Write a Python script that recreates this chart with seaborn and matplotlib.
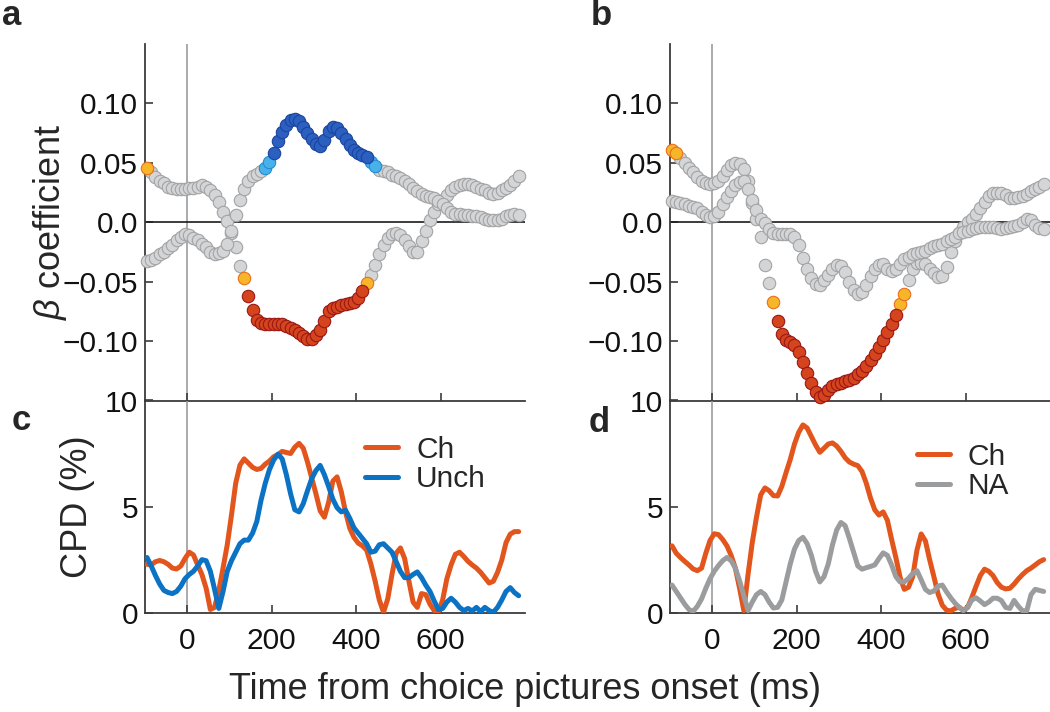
import matplotlib
matplotlib.use("Agg")
import matplotlib.pyplot as plt
import pandas as pd
import seaborn as sns

# sample times (ms from choice pictures onset)
time_ms = list(range(-95, 790, 10))

# ---- panel a: beta coefficients, Ch and Unch ----
beta_a_ch = [
    0.046, 0.042, 0.038, 0.035, 0.033, 0.030, 0.029, 0.028, 0.028, 0.028,
    0.029, 0.029, 0.030, 0.031, 0.030, 0.027, 0.023, 0.017, 0.009, 0.001,
    -0.009, -0.021, -0.037, -0.047, -0.062, -0.074, -0.082, -0.085, -0.086, -0.086,
    -0.086, -0.086, -0.086, -0.087, -0.089, -0.091, -0.093, -0.096, -0.098, -0.098,
    -0.095, -0.091, -0.083, -0.075, -0.072, -0.071, -0.070, -0.069, -0.068, -0.067,
    -0.064, -0.058, -0.051, -0.044, -0.036, -0.027, -0.019, -0.013, -0.010, -0.009,
    -0.011, -0.015, -0.020, -0.025, -0.025, -0.016, -0.007, 0.002, 0.009, 0.015,
    0.019, 0.023, 0.027, 0.030, 0.031, 0.032, 0.032, 0.031, 0.030, 0.028,
    0.027, 0.025, 0.024, 0.025, 0.027, 0.029, 0.031, 0.035, 0.039,
]
beta_a_unch = [
    -0.033, -0.032, -0.030, -0.027, -0.025, -0.022, -0.019, -0.015, -0.012, -0.010,
    -0.011, -0.013, -0.015, -0.018, -0.021, -0.025, -0.027, -0.026, -0.024, -0.018,
    -0.007, 0.006, 0.019, 0.028, 0.035, 0.039, 0.041, 0.043, 0.046, 0.051,
    0.058, 0.068, 0.076, 0.082, 0.086, 0.087, 0.085, 0.080, 0.075, 0.070,
    0.066, 0.064, 0.069, 0.077, 0.080, 0.079, 0.075, 0.070, 0.065, 0.061,
    0.058, 0.057, 0.055, 0.051, 0.047, 0.044, 0.043, 0.042, 0.040, 0.039,
    0.037, 0.035, 0.032, 0.029, 0.026, 0.024, 0.022, 0.021, 0.020, 0.018,
    0.015, 0.012, 0.009, 0.007, 0.007, 0.006, 0.006, 0.005, 0.005, 0.004,
    0.003, 0.002, 0.002, 0.002, 0.003, 0.005, 0.006, 0.007, 0.006,
]

# ---- panel b: beta coefficients, Ch and NA ----
beta_b_ch = [
    0.061, 0.058, 0.054, 0.050, 0.046, 0.042, 0.038, 0.035, 0.033, 0.032,
    0.033, 0.035, 0.039, 0.044, 0.048, 0.050, 0.049, 0.045, 0.035, 0.016,
    0.003, -0.012, -0.036, -0.051, -0.067, -0.083, -0.094, -0.099, -0.101, -0.103,
    -0.109, -0.118, -0.127, -0.135, -0.143, -0.147, -0.145, -0.141, -0.138, -0.136,
    -0.135, -0.134, -0.133, -0.131, -0.128, -0.125, -0.121, -0.116, -0.111, -0.105,
    -0.099, -0.092, -0.086, -0.078, -0.069, -0.060, -0.049, -0.039, -0.034, -0.034,
    -0.035, -0.039, -0.043, -0.046, -0.045, -0.038, -0.025, -0.016, -0.009, -0.004,
    0.000, 0.003, 0.007, 0.012, 0.017, 0.022, 0.025, 0.025, 0.025, 0.023,
    0.020, 0.020, 0.021, 0.022, 0.024, 0.026, 0.028, 0.030, 0.032,
]
beta_b_na = [
    0.018, 0.017, 0.016, 0.015, 0.014, 0.013, 0.012, 0.009, 0.006, 0.004,
    0.005, 0.009, 0.015, 0.021, 0.026, 0.031, 0.034, 0.035, 0.028, 0.019,
    0.010, 0.003, -0.001, -0.006, -0.009, -0.010, -0.010, -0.010, -0.010, -0.012,
    -0.019, -0.030, -0.039, -0.047, -0.052, -0.053, -0.049, -0.044, -0.039, -0.036,
    -0.037, -0.042, -0.050, -0.057, -0.060, -0.059, -0.053, -0.045, -0.039, -0.036,
    -0.035, -0.039, -0.041, -0.039, -0.035, -0.031, -0.029, -0.027, -0.026, -0.025,
    -0.024, -0.022, -0.020, -0.019, -0.018, -0.016, -0.014, -0.012, -0.009, -0.008,
    -0.007, -0.006, -0.005, -0.004, -0.004, -0.004, -0.004, -0.005, -0.006, -0.005,
    -0.004, -0.003, -0.002, 0.000, 0.003, 0.002, -0.002, -0.005, -0.006,
]

# significance cut-offs on |beta| (p<0.05 level, stronger level); None = never sig.
crit_a = (0.046, 0.053)
crit_b = (0.057, 0.078)

# ---- panel c: CPD (%) ----
cpd_c_ch = [
    2.28, 2.26, 2.40, 2.46, 2.40, 2.28, 2.10, 2.06, 2.20, 2.55,
    2.85, 2.72, 2.25, 1.80, 1.15, 0.15, 0.25, 1.05, 2.10, 3.20,
    4.60, 6.10, 6.95, 7.25, 7.05, 6.85, 6.75, 6.80, 7.00, 7.15,
    7.35, 7.45, 7.60, 7.55, 7.50, 7.80, 7.98, 7.75, 7.10, 6.35,
    5.60, 4.80, 4.50, 5.20, 6.20, 6.40, 5.70, 4.75, 3.98, 3.55,
    3.28, 3.15, 2.95, 2.30, 1.50, 0.60, 0.02, 0.65, 1.80, 2.80,
    3.05, 2.55, 1.50, 0.50, 0.25, 0.90, 0.85, 0.40, 0.10, 0.05,
    0.60, 1.60, 2.25, 2.75, 2.85, 2.65, 2.42, 2.25, 2.10, 1.90,
    1.65, 1.40, 1.48, 1.90, 2.48, 3.30, 3.70, 3.82, 3.82,
]
cpd_c_unch = [
    2.60, 2.20, 1.75, 1.35, 1.05, 0.95, 0.90, 1.00, 1.25, 1.60,
    1.80, 1.95, 2.20, 2.50, 2.45, 1.95, 1.10, 0.20, 1.00, 1.95,
    2.45, 2.85, 3.25, 3.42, 3.42, 3.75, 4.30, 5.30, 6.10, 6.75,
    7.20, 7.47, 7.25, 6.50, 5.60, 4.85, 4.75, 5.14, 5.75, 6.32,
    6.70, 6.94, 6.50, 5.95, 5.35, 4.95, 4.75, 4.83, 4.45, 4.00,
    3.75, 3.50, 3.25, 2.85, 2.90, 3.20, 3.25, 3.05, 2.85, 2.40,
    1.95, 1.65, 1.65, 1.80, 1.92, 1.65, 1.30, 1.00, 0.55, 0.15,
    0.20, 0.50, 0.68, 0.50, 0.25, 0.10, 0.20, 0.08, 0.25, 0.05,
    0.25, 0.10, 0.02, 0.25, 0.60, 1.00, 1.18, 0.95, 0.80,
]

# ---- panel d: CPD (%) ----
cpd_d_ch = [
    3.15, 2.80, 2.60, 2.42, 2.25, 2.06, 1.98, 2.10, 2.80, 3.40,
    3.72, 3.68, 3.45, 3.15, 2.70, 2.10, 1.15, 0.10, 1.80, 3.30,
    4.50, 5.55, 5.88, 5.75, 5.52, 5.50, 5.95, 6.60, 7.22, 7.95,
    8.50, 8.85, 8.70, 8.30, 7.90, 7.56, 7.75, 7.95, 8.00, 7.85,
    7.60, 7.30, 7.10, 7.00, 6.93, 6.65, 6.10, 5.40, 4.85, 4.60,
    4.75, 4.35, 3.45, 2.60, 1.67, 1.10, 1.20, 1.70, 2.95, 3.71,
    3.38, 2.50, 1.70, 0.88, 0.35, 0.12, 0.08, 0.20, 0.26, 0.10,
    0.25, 0.72, 1.25, 1.75, 2.05, 1.95, 1.75, 1.42, 1.20, 1.12,
    1.15, 1.35, 1.59, 1.80, 1.98, 2.10, 2.25, 2.40, 2.50,
]
cpd_d_na = [
    1.30, 1.00, 0.70, 0.40, 0.15, 0.06, 0.30, 0.65, 1.15, 1.60,
    1.95, 2.22, 2.45, 2.60, 2.45, 2.10, 1.50, 0.80, 0.10, 0.50,
    0.85, 1.00, 0.85, 0.50, 0.22, 0.25, 0.60, 1.45, 2.30, 3.00,
    3.40, 3.55, 3.25, 2.70, 1.95, 1.45, 1.70, 2.30, 3.20, 3.90,
    4.25, 4.10, 3.50, 2.85, 2.20, 2.05, 2.12, 2.18, 2.25, 2.55,
    2.82, 2.70, 2.25, 1.70, 1.45, 1.45, 1.62, 1.85, 1.98, 1.55,
    1.10, 0.95, 1.02, 1.25, 1.30, 0.98, 0.70, 0.45, 0.25, 0.10,
    0.25, 0.60, 0.70, 0.55, 0.38, 0.50, 0.68, 0.68, 0.57, 0.25,
    0.20, 0.58, 0.30, 0.09, 0.09, 0.85, 1.10, 1.05, 1.00,
]

beta_ticks = [-0.10, -0.05, 0.0, 0.05, 0.10]
beta_ticklabels = ["\u22120.10", "\u22120.05", "0.0", "0.05", "0.10"]
time_ticks = [0, 200, 400, 600]
cpd_ticks = [0, 5, 10]

sns.set_theme(style="ticks")
plt.rcParams["font.family"] = ["Liberation Sans", "DejaVu Sans"]
plt.rcParams["mathtext.fontset"] = "custom"
plt.rcParams["mathtext.it"] = "Liberation Sans:italic"
plt.rcParams["mathtext.rm"] = "Liberation Sans"

ORANGE = "#e2561d"
BLUE = "#0c72c4"
GRAY_LINE = "#9b9c9e"
SPINE = "#3c3c3c"

# face / edge colours per significance level
gray_pt = ("#d4d5d6", "#a2a3a5")
ch_pal = {"ns": gray_pt, "weak": ("#f7b52a", "#e8701c"), "strong": ("#d4441d", "#9a1716")}
unch_pal = {"ns": gray_pt, "weak": ("#47b2ea", "#2589d2"), "strong": ("#2b5fc0", "#1b449f")}
na_pal = {"ns": gray_pt}

TICK_FS = 21.5
LABEL_FS = 26

fig = plt.figure(figsize=(10.5, 7.12), dpi=100)
ax_a = fig.add_axes([0.138, 0.4375, 0.362, 0.5007])
ax_b = fig.add_axes([0.638, 0.4375, 0.362, 0.5007])
ax_c = fig.add_axes([0.138, 0.1395, 0.362, 0.298])
ax_d = fig.add_axes([0.638, 0.1395, 0.362, 0.298])


def sig_level(v, crit):
    if crit is None or abs(v) < crit[0]:
        return "ns"
    return "weak" if abs(v) < crit[1] else "strong"


def beta_panel(ax, series):
    ax.axvline(0, color=GRAY_LINE, lw=1.2, zorder=0)
    ax.axhline(0, color="#1a1a1a", lw=1.2, zorder=1)
    for values, crit, pal in series:
        df = pd.DataFrame({"t": time_ms, "beta": values})
        df["level"] = [sig_level(v, crit) for v in values]
        for lvl in ["ns", "weak", "strong"]:
            sub = df[df["level"] == lvl]
            if sub.empty:
                continue
            face, edge = pal[lvl]
            sns.scatterplot(data=sub, x="t", y="beta", s=80, color=face,
                            edgecolor=edge, linewidth=0.8, legend=False,
                            ax=ax, zorder=3, clip_on=False)
    ax.set_xlim(-100, 800)
    ax.set_ylim(-0.15, 0.15)
    ax.set_yticks(beta_ticks, beta_ticklabels)
    ax.set_xticks(time_ticks)
    ax.set_xticklabels([])
    ax.set_xlabel("")
    ax.set_ylabel("")
    ax.tick_params(axis="y", pad=5)


def cpd_panel(ax, lines, legend_pos):
    ax.axvline(0, color=GRAY_LINE, lw=1.2, zorder=0)
    for values, color, name in lines:
        sns.lineplot(x=time_ms, y=values, color=color, linewidth=3.6,
                     ax=ax, label=name, zorder=3)
    ax.set_xlim(-100, 800)
    ax.set_ylim(0, 10)
    ax.set_yticks(cpd_ticks)
    ax.set_xticks(time_ticks)
    ax.tick_params(axis="x", pad=10)
    ax.tick_params(axis="y", pad=5)
    ax.get_xticklabels()[0].set_color("#8a8a8a")
    ax.legend(loc="upper left", bbox_to_anchor=legend_pos, frameon=False,
              fontsize=TICK_FS, handlelength=1.1, handletextpad=0.6,
              labelspacing=0.05, borderpad=0, borderaxespad=0)


beta_panel(ax_a, [(beta_a_ch, crit_a, ch_pal), (beta_a_unch, crit_a, unch_pal)])
beta_panel(ax_b, [(beta_b_ch, crit_b, ch_pal), (beta_b_na, None, na_pal)])
cpd_panel(ax_c, [(cpd_c_ch, ORANGE, "Ch"), (cpd_c_unch, BLUE, "Unch")], (0.58, 0.835))
cpd_panel(ax_d, [(cpd_d_ch, ORANGE, "Ch"), (cpd_d_na, GRAY_LINE, "NA")], (0.65, 0.80))

for ax in [ax_a, ax_b, ax_c, ax_d]:
    sns.despine(ax=ax)
    for side in ["left", "bottom"]:
        ax.spines[side].set_color(SPINE)
        ax.spines[side].set_linewidth(1.3)
    ax.tick_params(direction="in", length=6, width=1.2, color=SPINE,
                   labelsize=TICK_FS, labelcolor="#111111")
    ax.set_facecolor("none")

fig.text(0.048, 0.688, r"$\beta$ coefficient", rotation=90, ha="center",
         va="center", fontsize=LABEL_FS)
fig.text(0.074, 0.289, "CPD (%)", rotation=90, ha="center", va="center",
         fontsize=LABEL_FS)
fig.text(0.5, 0.031, "Time from choice pictures onset (ms)", ha="center",
         va="center", fontsize=LABEL_FS)

for letter, x, y in [("a", 0.002, 0.965), ("b", 0.563, 0.965),
                     ("c", 0.011, 0.396), ("d", 0.561, 0.393)]:
    fig.text(x, y, letter, fontsize=25, fontweight="bold", va="baseline")

fig.savefig("out.png", dpi=100)
